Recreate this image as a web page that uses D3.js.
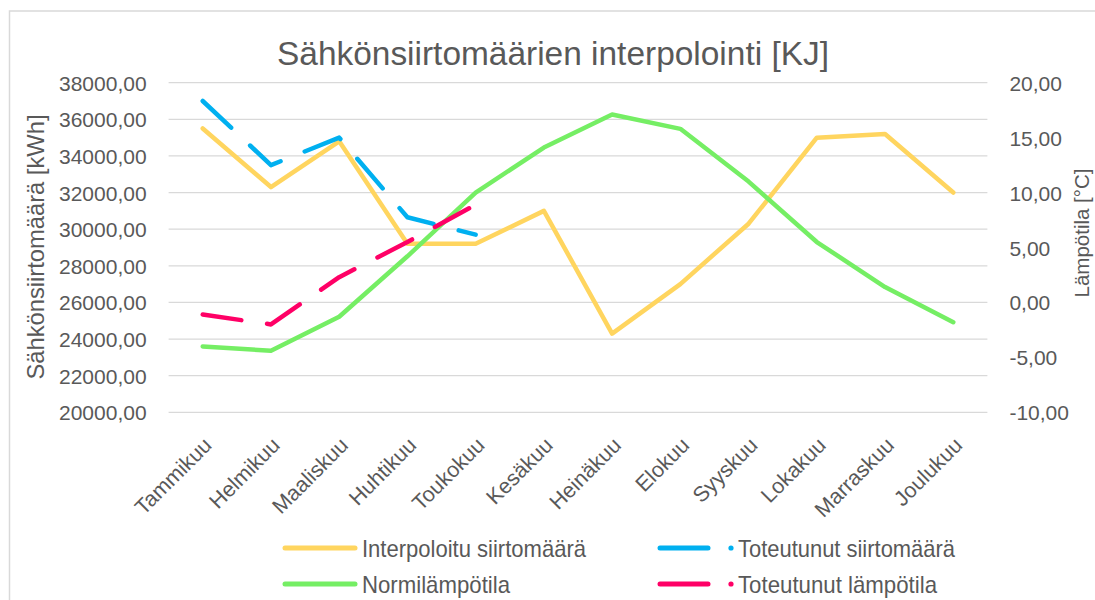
<!DOCTYPE html>
<html>
<head>
<meta charset="utf-8">
<script src="https://cdn.jsdelivr.net/npm/d3@7"></script>
<style>
  html, body { margin: 0; padding: 0; background: #fff; }
  svg { display: block; }
</style>
</head>
<body>
<svg id="chart" width="1095" height="600"></svg>
<script>
// ---------- data ----------
const months = ["Tammikuu","Helmikuu","Maaliskuu","Huhtikuu","Toukokuu","Kesäkuu","Heinäkuu","Elokuu","Syyskuu","Lokakuu","Marraskuu","Joulukuu"];
const interpolatedTransfer = [35500, 32300, 34800, 29200, 29200, 31000, 24300, 27000, 30300, 35000, 35200, 32000];
const actualTransfer = [37000, 33500, 35000, 30650, 29700];
const normalTemp = [-4.0, -4.4, -1.3, 4.2, 10.0, 14.1, 17.1, 15.8, 11.0, 5.5, 1.4, -1.8];
const actualTemp = [-1.1, -2.0, 2.3, 5.5, 8.9];
const leftTicks = [20000, 22000, 24000, 26000, 28000, 30000, 32000, 34000, 36000, 38000];
const rightTicks = [-10, -5, 0, 5, 10, 15, 20];
const seriesNames = ["Interpoloitu siirtomäärä", "Toteutunut siirtomäärä", "Normilämpötila", "Toteutunut lämpötila"];
const titleText = "Sähkönsiirtomäärien interpolointi [KJ]";
const leftTitle = "Sähkönsiirtomäärä [kWh]";
const rightTitle = "Lämpötila [°C]";

// ---------- setup ----------
const svg = d3.select("#chart");
const W = 1095, H = 600;
const plot = { left: 168.6, right: 987.4, top: 82.7, bottom: 412.3 };
const textColor = "#595959";
const gridColor = "#D9D9D9";
const colors = { yellow: "#FFD55F", blue: "#00B0F0", green: "#75EE64", red: "#FF0066" };
const fmt = v => d3.format(".2f")(v).replace(".", ",").replace("\u2212", "-");
const sans = "'Liberation Sans', Arial, sans-serif";

function fitWidth(sel, target) {
  const node = sel.node();
  const fs = parseFloat(sel.attr("font-size"));
  const w = node.getComputedTextLength();
  if (w > 0) sel.attr("font-size", (fs * target / w).toFixed(2));
}

// chart border
svg.append("rect")
  .attr("x", 9.5).attr("y", 11).attr("width", W + 20).attr("height", H + 20)
  .attr("fill", "#fff").attr("stroke", gridColor).attr("stroke-width", 1.5);

// scales
const x = d3.scaleBand().domain(months).range([plot.left, plot.right]);
const xc = m => x(m) + x.bandwidth() / 2;
const yL = d3.scaleLinear().domain([20000, 38000]).range([plot.bottom, plot.top]);
const yR = d3.scaleLinear().domain([-10, 20]).range([plot.bottom, plot.top]);

// gridlines
svg.append("g").selectAll("line").data(leftTicks).join("line")
  .attr("x1", plot.left).attr("x2", plot.right)
  .attr("y1", d => yL(d)).attr("y2", d => yL(d))
  .attr("stroke", gridColor).attr("stroke-width", 1.3);

// left axis
const leftAxis = svg.append("g")
  .attr("transform", `translate(${plot.left - 22},0)`)
  .call(d3.axisLeft(yL).tickValues(leftTicks).tickFormat(fmt).tickSize(0).tickPadding(0));
leftAxis.select(".domain").remove();
leftAxis.selectAll("text").attr("font-family", sans).attr("font-size", 21).attr("fill", textColor).attr("dy", "0.36em");

// right axis
const rightAxis = svg.append("g")
  .attr("transform", `translate(${plot.right + 22},0)`)
  .call(d3.axisRight(yR).tickValues(rightTicks).tickFormat(fmt).tickSize(0).tickPadding(0));
rightAxis.select(".domain").remove();
rightAxis.selectAll("text").attr("font-family", sans).attr("font-size", 21).attr("fill", textColor).attr("dy", "0.36em");

// x axis labels
const xAxis = svg.append("g")
  .attr("transform", `translate(0,${plot.bottom})`)
  .call(d3.axisBottom(x).tickSize(0).tickPadding(0));
xAxis.select(".domain").remove();
xAxis.selectAll("text")
  .attr("font-family", sans).attr("font-size", 21.5).attr("fill", textColor)
  .attr("text-anchor", "end")
  .attr("dy", "0.35em")
  .attr("transform", "translate(5,29) rotate(-45)");

// axis titles
const lt = svg.append("text")
  .attr("transform", `translate(44,247) rotate(-90)`)
  .attr("text-anchor", "middle")
  .attr("font-family", sans).attr("font-size", 22).attr("fill", textColor)
  .text(leftTitle);
fitWidth(lt, 265);
svg.append("text")
  .attr("transform", `translate(1089,233) rotate(-90)`)
  .attr("text-anchor", "middle")
  .attr("font-family", sans).attr("font-size", 20.5).attr("fill", textColor)
  .text(rightTitle);

// title (narrow face emulated by compressing glyphs to the measured width)
svg.append("text")
  .attr("x", 553).attr("y", 65)
  .attr("text-anchor", "middle")
  .attr("font-family", sans).attr("font-size", 33).attr("fill", textColor)
  .attr("textLength", 552).attr("lengthAdjust", "spacingAndGlyphs")
  .text(titleText);

// lines
const lineL = d3.line().x((d, i) => xc(months[i])).y(d => yL(d));
const lineR = d3.line().x((d, i) => xc(months[i])).y(d => yR(d));
const dash = "39,26";

svg.append("path").datum(interpolatedTransfer)
  .attr("d", lineL).attr("fill", "none").attr("stroke", colors.yellow)
  .attr("stroke-width", 4.5).attr("stroke-linejoin", "round").attr("stroke-linecap", "round");
svg.append("path").datum(normalTemp)
  .attr("d", lineR).attr("fill", "none").attr("stroke", colors.green)
  .attr("stroke-width", 4.5).attr("stroke-linejoin", "round").attr("stroke-linecap", "round");
svg.append("path").datum(actualTransfer)
  .attr("d", lineL).attr("fill", "none").attr("stroke", colors.blue)
  .attr("stroke-width", 4.5).attr("stroke-linejoin", "round").attr("stroke-linecap", "round")
  .attr("stroke-dasharray", dash);
svg.append("path").datum(actualTemp)
  .attr("d", lineR).attr("fill", "none").attr("stroke", colors.red)
  .attr("stroke-width", 4.5).attr("stroke-linejoin", "round").attr("stroke-linecap", "round")
  .attr("stroke-dasharray", dash);

// legend
const legendItems = [
  { name: seriesNames[0], color: colors.yellow, dashed: false, x: 285, y: 548, w: 224 },
  { name: seriesNames[1], color: colors.blue, dashed: true, x: 660, y: 548, w: 217 },
  { name: seriesNames[2], color: colors.green, dashed: false, x: 285, y: 584, w: 148 },
  { name: seriesNames[3], color: colors.red, dashed: true, x: 660, y: 584, w: 199 }
];
const lg = svg.append("g");
legendItems.forEach(it => {
  const g = lg.append("g");
  if (!it.dashed) {
    g.append("line").attr("x1", it.x).attr("x2", it.x + 70).attr("y1", it.y).attr("y2", it.y)
      .attr("stroke", it.color).attr("stroke-width", 5).attr("stroke-linecap", "round");
  } else {
    g.append("line").attr("x1", it.x).attr("x2", it.x + 48).attr("y1", it.y).attr("y2", it.y)
      .attr("stroke", it.color).attr("stroke-width", 5).attr("stroke-linecap", "round");
    g.append("circle").attr("cx", it.x + 71).attr("cy", it.y).attr("r", 2.6).attr("fill", it.color);
  }
  g.append("text")
    .attr("x", it.dashed ? it.x + 78 : it.x + 77).attr("y", it.y).attr("dy", "0.36em")
    .attr("font-family", sans).attr("font-size", 24).attr("fill", textColor)
    .attr("textLength", it.w).attr("lengthAdjust", "spacingAndGlyphs")
    .text(it.name);
});
</script>
</body>
</html>
